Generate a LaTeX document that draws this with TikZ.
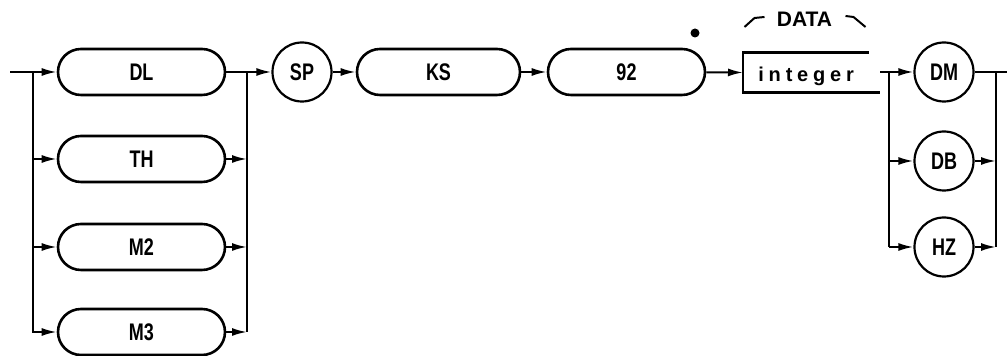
\documentclass[tikz,border=0pt]{standalone}
\usepackage{fontspec}
\newfontfamily\synfont[FakeStretch=0.75]{Liberation Sans}
\newfontfamily\capfont{Liberation Sans}
\usetikzlibrary{arrows.meta,positioning}

\begin{document}
\begin{tikzpicture}[x=0.5pt, y=-0.5pt,
  keyword/.style={draw, line width=1.3pt, rounded corners=11.5pt, minimum width=83.5pt, minimum height=23pt, inner sep=0pt, font=\synfont\bfseries\fontsize{12}{14}\selectfont},
  unit/.style={draw, circle, line width=1.1pt, minimum size=29.5pt, inner sep=0pt, font=\synfont\bfseries\fontsize{12}{14}\selectfont},
  flow/.style={line width=1pt, -{Latex[length=7.5pt,width=4pt]}},
  bus/.style={line width=1pt}]
  \useasboundingbox (0,0) rectangle (1008,356);
  % Function keywords
  \node[keyword] (DL) at (141.5,72) {DL};
  \node[keyword] (TH) at (141.5,159) {TH};
  \node[keyword] (M2) at (141.5,247) {M2};
  \node[keyword] (M3) at (141.5,332) {M3};
  % Command
  \node[unit] (SP) at (302,72) {SP};
  \node[keyword, minimum width=81.5pt] (KS) at (438.5,72) {KS};
  \node[keyword, minimum width=78.5pt] (n92) at (626.5,72) {92};
  \node[circle, fill, inner sep=0pt, minimum size=4.5pt] (dot) at (695,33) {};
  % Data field
  \node[anchor=west, inner xsep=7.5pt, inner ysep=0pt, text width=47.5pt, text height=9.5pt, text depth=0pt, minimum height=19.5pt, align=left, font=\capfont\bfseries\fontsize{10}{12}\selectfont\addfontfeature{LetterSpace=24}] (int) at (743,72.5) {integer};
  \node[font=\capfont\bfseries\fontsize{10.5}{12}\selectfont, inner sep=0pt] (data) at (804.5,19.5) {DATA};
  \draw[bus] ([shift={(-12,-2.5)}]data.west) -- ++(-10,1) -- ++(-10,9);
  \draw[bus] ([shift={(13,-3.5)}]data.east) -- ++(8,1) -- ++(12,10);
  % Units
  \node[unit] (DM) at (944,72) {DM};
  \node[unit] (DB) at (944,161) {DB};
  \node[unit] (HZ) at (944,247) {HZ};
  % Left branch
  \coordinate (in) at (10,72);
  \coordinate (jl) at (33,72);
  \draw[flow] (in) -- (DL);
  \draw[flow] (jl) |- (M3.west);
  \draw[flow] (jl |- TH.west) -- (TH);
  \draw[flow] (jl |- M2.west) -- (M2);
  % Right branch
  \coordinate (jr) at (247,72);
  \draw[bus] (DL) -- (jr) -- (jr |- M3.east);
  \draw[flow] (TH) -- (TH.east -| jr);
  \draw[flow] (M2) -- (M2.east -| jr);
  \draw[flow] (M3) -- (M3.east -| jr);
  % Main line
  \draw[flow] (jr) -- (SP);
  \draw[flow] (SP) -- (KS);
  \draw[flow] (KS) -- (n92);
  \draw[flow] (n92) -- (int.west);
  \draw[bus, line width=1.3pt] (int.north east) -- (int.north west) -- (int.south west) -- ++(137,0);
  % Unit branch
  \coordinate (dstart) at (880,72);
  \coordinate (jd) at (889,72);
  \draw[flow] (dstart) -- (DM);
  \draw[bus] (jd) -- (jd |- HZ.west);
  \draw[flow] (jd |- DB.west) -- (DB);
  \draw[flow] (jd |- HZ.west) -- (HZ);
  \coordinate (je) at (996,72);
  \coordinate (out) at (1007,72);
  \draw[bus] (DM) -- (out);
  \draw[bus] (je) -- (je |- HZ.east);
  \draw[flow] (DB) -- (DB.east -| je);
  \draw[flow] (HZ) -- (HZ.east -| je);
\end{tikzpicture}
\end{document}
